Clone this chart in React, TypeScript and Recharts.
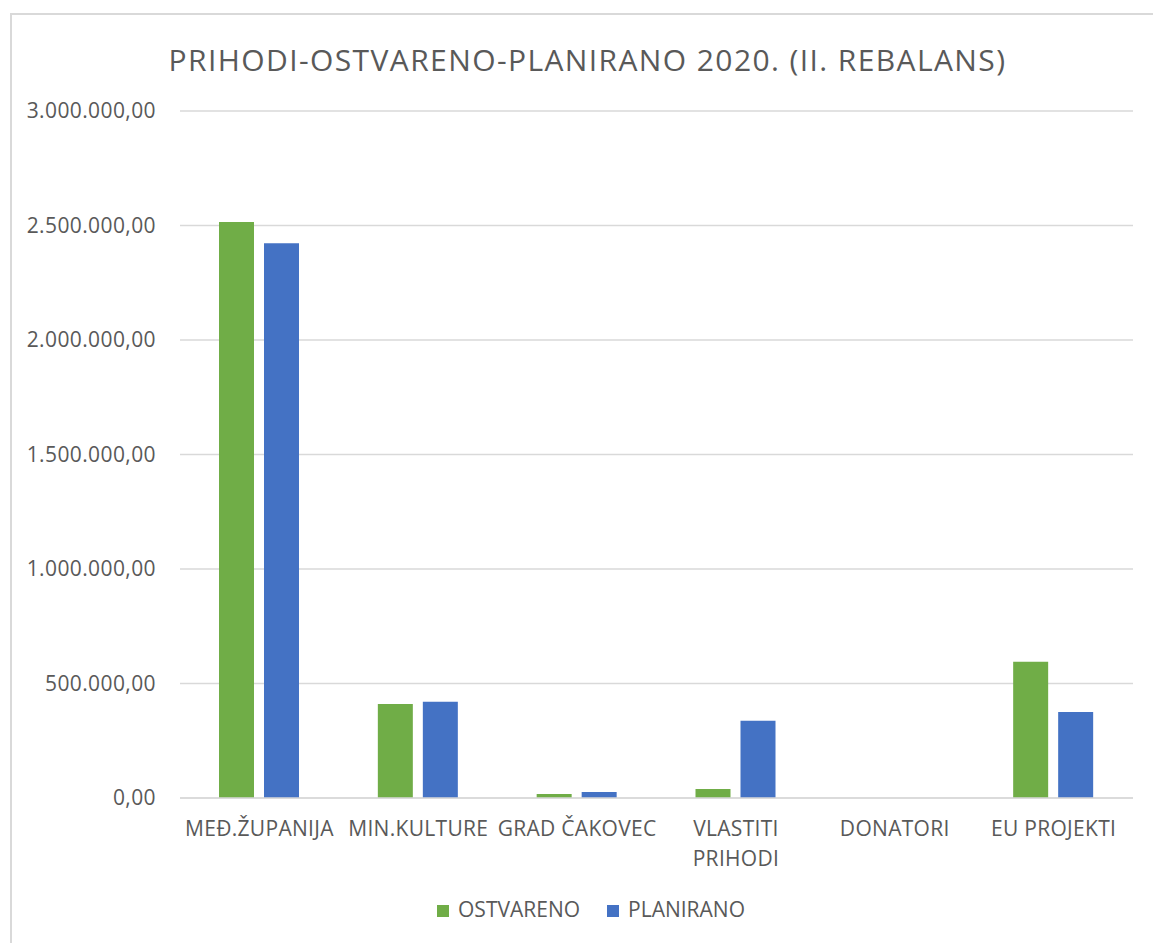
import { BarChart, Bar, XAxis, YAxis, CartesianGrid, Legend } from "recharts";

const categories = [
  "MEĐ.ŽUPANIJA",
  "MIN.KULTURE",
  "GRAD ČAKOVEC",
  "VLASTITI\nPRIHODI",
  "DONATORI",
  "EU PROJEKTI",
];
const ostvareno = [2515000, 411000, 17000, 39000, 0, 595000];
const planirano = [2423000, 420000, 26000, 337000, 0, 376000];
const yTicks = [0, 500000, 1000000, 1500000, 2000000, 2500000, 3000000];

const data = categories.map((name, i) => ({
  name,
  ostvareno: ostvareno[i],
  planirano: planirano[i],
}));

const FONT = "'Open Sans', 'Noto Sans', sans-serif";
const TEXT = "#595959";

// 3000000 -> 3.000.000,00
const formatHr = (v: number) => {
  const [int, dec] = v.toFixed(2).split(".");
  return int.replace(/\B(?=(\d{3})+(?!\d))/g, ".") + "," + dec;
};

const CategoryTick = (props: any) => {
  const { x, y, payload } = props;
  const lines = String(payload.value).split("\n");
  return (
    <g transform={`translate(${x},${y})`}>
      {lines.map((line: string, i: number) => (
        <text
          key={i}
          x={0}
          y={i * 30}
          dy={30}
          textAnchor="middle"
          fill={TEXT}
          fontSize={21}
          fontFamily={FONT}
          letterSpacing={0.3}
        >
          {line}
        </text>
      ))}
    </g>
  );
};

function App() {
  return (
    <div
      style={{
        position: "absolute",
        left: 0,
        top: 0,
        width: 1153,
        height: 943,
        background: "#fff",
        overflow: "hidden",
      }}
    >
      <div
        style={{
          position: "absolute",
          left: 10,
          top: 13,
          width: 1200,
          height: 1000,
          border: "2px solid #d9d9d9",
          boxSizing: "border-box",
        }}
      />
      <div
        style={{
          position: "absolute",
          left: 0,
          top: 39,
          width: 1175,
          textAlign: "center",
          fontFamily: FONT,
          fontSize: 30,
          letterSpacing: 1.4,
          color: TEXT,
        }}
      >
        PRIHODI-OSTVARENO-PLANIRANO 2020. (II. REBALANS)
      </div>
      <div style={{ position: "absolute", left: 0, top: 0 }}>
        <BarChart
          width={1153}
          height={943}
          data={data}
          margin={{ top: 111, right: 20, bottom: 0, left: 0 }}
          barGap={10}
          barSize={35}
        >
          <CartesianGrid vertical={false} stroke="#d9d9d9" strokeWidth={1.5} />
          <XAxis
            dataKey="name"
            interval={0}
            height={117}
            tickLine={false}
            axisLine={{ stroke: "#d9d9d9", strokeWidth: 1.5 }}
            tick={<CategoryTick />}
          />
          <YAxis
            width={180}
            domain={[0, 3000000]}
            ticks={yTicks}
            tickFormatter={formatHr}
            axisLine={false}
            tickLine={false}
            tickSize={0}
            tickMargin={24}
            tick={{ fill: TEXT, fontSize: 21, fontFamily: FONT, letterSpacing: 0.4 }}
          />
          <Legend
            verticalAlign="bottom"
            align="center"
            iconType="square"
            iconSize={12}
            wrapperStyle={{
              position: "absolute",
              top: 895,
              left: 6,
              width: 1180,
              fontFamily: FONT,
              fontSize: 21,
            }}
            formatter={(value: string, _entry: any, index: number) => (
              <span
                style={{
                  color: TEXT,
                  marginLeft: 5,
                  marginRight: index === 0 ? 17 : 0,
                }}
              >
                {value}
              </span>
            )}
          />
          <Bar
            dataKey="ostvareno"
            name="OSTVARENO"
            fill="#70ad47"
            isAnimationActive={false}
          />
          <Bar
            dataKey="planirano"
            name="PLANIRANO"
            fill="#4472c4"
            isAnimationActive={false}
          />
        </BarChart>
      </div>
    </div>
  );
}

export default App;
